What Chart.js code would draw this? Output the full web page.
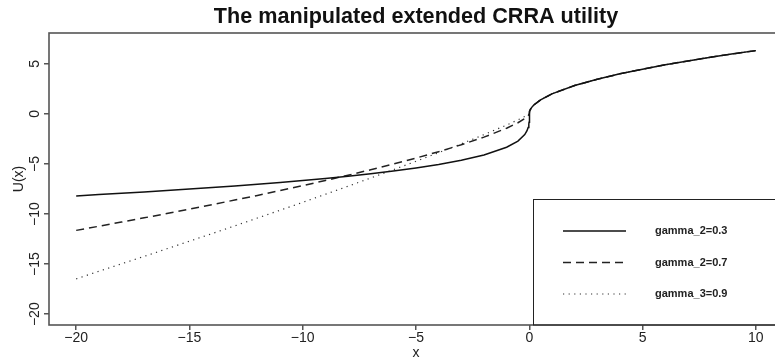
<!DOCTYPE html>
<html>
<head>
<meta charset="utf-8">
<script src="https://cdn.jsdelivr.net/npm/chart.js@4"></script>
<style>
  html, body { margin: 0; padding: 0; background: #fff; overflow: hidden; }
  canvas { display: block; }
</style>
</head>
<body>
<canvas id="utilityChart" width="800" height="360"></canvas>
<script>
// x grid, finer close to zero where the curves bend sharply
const xValues = [-20, -19, -18, -17, -16, -15, -14, -13, -12, -11, -10, -9, -8, -7, -6, -5, -4, -3, -2, -1,
  -0.5, -0.2, -0.1, -0.05, -0.02, -0.01, 0,
  0.01, 0.02, 0.05, 0.1, 0.2, 0.5, 1, 2, 3, 4, 5, 6, 7, 8, 9, 10];

// losses (x <= 0), one branch per gamma
const lossGamma03 = [-8.19, -8.06, -7.93, -7.80, -7.66, -7.51, -7.36, -7.20, -7.02, -6.84, -6.65, -6.44, -6.22, -5.98, -5.71, -5.40, -5.05, -4.63, -4.10, -3.33,
  -2.71, -2.06, -1.67, -1.36, -1.03, -0.84, 0];
const lossGamma07 = [-11.63, -11.22, -10.80, -10.38, -9.95, -9.51, -9.06, -8.60, -8.14, -7.65, -7.16, -6.65, -6.12, -5.58, -5.01, -4.41, -3.77, -3.08, -2.32, -1.43,
  -0.88, -0.46, -0.29, -0.18, -0.09, -0.06, 0];
const lossGamma09 = [-16.47, -15.72, -14.97, -14.23, -13.47, -12.71, -11.95, -11.18, -10.40, -9.62, -8.83, -8.03, -7.22, -6.40, -5.57, -4.73, -3.87, -2.99, -2.07, -1.11,
  -0.60, -0.26, -0.14, -0.08, -0.03, -0.02, 0];

// gains (x > 0) are the same for all three curves
const gainValues = [0.20, 0.28, 0.45, 0.63, 0.89, 1.41, 2.00, 2.83, 3.46, 4.00, 4.47, 4.90, 5.29, 5.66, 6.00, 6.32];

const seriesLabels = ['gamma_2=0.3', 'gamma_2=0.7', 'gamma_3=0.9'];
const xTicks = [-20, -15, -10, -5, 0, 5, 10];
const yTicks = [-20, -15, -10, -5, 0, 5];
const chartTitle = 'The manipulated extended CRRA utility';

const FONT = '"Liberation Sans", Arial, Helvetica, sans-serif';
Chart.defaults.font.family = FONT;

const fmt = v => (v < 0 ? '\u2212' + Math.abs(v) : String(v));
const toPoints = ys => ys.map((y, i) => ({ x: xValues[i], y: y }));

// title over the plot region, box around the plot, rotated y tick labels and the legend
const framePlugin = {
  id: 'frame',
  afterDraw(chart) {
    const ctx = chart.ctx;
    const a = chart.chartArea;
    const ys = chart.scales.y;
    ctx.save();

    ctx.fillStyle = '#111';
    ctx.font = 'bold 21.6px ' + FONT;
    ctx.textAlign = 'center';
    ctx.textBaseline = 'alphabetic';
    ctx.fillText(chartTitle, (a.left + a.right) / 2, 23);

    ctx.strokeStyle = '#555';
    ctx.lineWidth = 1.6;
    ctx.strokeRect(a.left, a.top, a.right - a.left, a.bottom - a.top);

    ctx.fillStyle = '#222';
    ctx.font = '14px ' + FONT;
    ctx.textAlign = 'center';
    ctx.textBaseline = 'middle';
    yTicks.forEach(v => {
      ctx.save();
      ctx.translate(35.5, ys.getPixelForValue(v));
      ctx.rotate(-Math.PI / 2);
      ctx.fillText(fmt(v), 0, 0);
      ctx.restore();
    });

    // legend
    ctx.strokeStyle = '#222';
    ctx.lineWidth = 1;
    ctx.strokeRect(533.5, 199.5, 300, a.bottom - 199.5);
    ctx.font = 'bold 11px ' + FONT;
    ctx.textAlign = 'left';
    chart.data.datasets.forEach((ds, i) => {
      const y = 231 + i * 31.5;
      ctx.save();
      ctx.strokeStyle = ds.borderColor;
      ctx.lineWidth = ds.borderWidth;
      ctx.setLineDash(ds.borderDash || []);
      ctx.beginPath();
      ctx.moveTo(563, y);
      ctx.lineTo(626, y);
      ctx.stroke();
      ctx.restore();
      ctx.fillStyle = '#222';
      ctx.fillText(ds.label, 655, y);
    });
    ctx.restore();
  }
};

const axisGrid = { display: true, drawOnChartArea: false, drawTicks: true, tickLength: 5, color: '#555', lineWidth: 1.5 };

new Chart(document.getElementById('utilityChart').getContext('2d'), {
  type: 'line',
  data: {
    datasets: [
      { label: seriesLabels[0], data: toPoints(lossGamma03.concat(gainValues)), borderColor: '#111', borderWidth: 1.5 },
      { label: seriesLabels[1], data: toPoints(lossGamma07.concat(gainValues)), borderColor: '#222', borderWidth: 1.5, borderDash: [8, 5] },
      { label: seriesLabels[2], data: toPoints(lossGamma09.concat(gainValues)), borderColor: '#333', borderWidth: 1.2, borderDash: [1.2, 4.4] }
    ]
  },
  options: {
    responsive: false,
    animation: false,
    devicePixelRatio: 1,
    layout: { padding: { top: 33, right: 17, bottom: 0, left: 0 } },
    elements: { point: { radius: 0 }, line: { tension: 0, fill: false } },
    plugins: {
      legend: { display: false },
      tooltip: { enabled: false },
      title: { display: false }
    },
    scales: {
      x: {
        type: 'linear',
        min: -21.2,
        max: 11.2,
        afterBuildTicks: s => { s.ticks = xTicks.map(v => ({ value: v })); },
        afterFit: s => { s.height = 35; },
        grid: axisGrid,
        border: { display: false },
        ticks: { callback: v => fmt(v), color: '#222', font: { size: 14 }, padding: 0, maxRotation: 0, autoSkip: false },
        title: { display: true, text: 'x', color: '#222', font: { size: 14, lineHeight: 1 }, padding: { top: 0, bottom: 0 } }
      },
      y: {
        type: 'linear',
        min: -21.08,
        max: 8.08,
        afterBuildTicks: s => { s.ticks = yTicks.map(v => ({ value: v })); },
        afterFit: s => { s.width = 49; },
        grid: axisGrid,
        border: { display: false },
        ticks: { display: false },
        title: { display: true, text: 'U(x)', color: '#222', font: { size: 14 }, padding: { top: 11, bottom: 0 } }
      }
    }
  },
  plugins: [framePlugin]
});
</script>
</body>
</html>
